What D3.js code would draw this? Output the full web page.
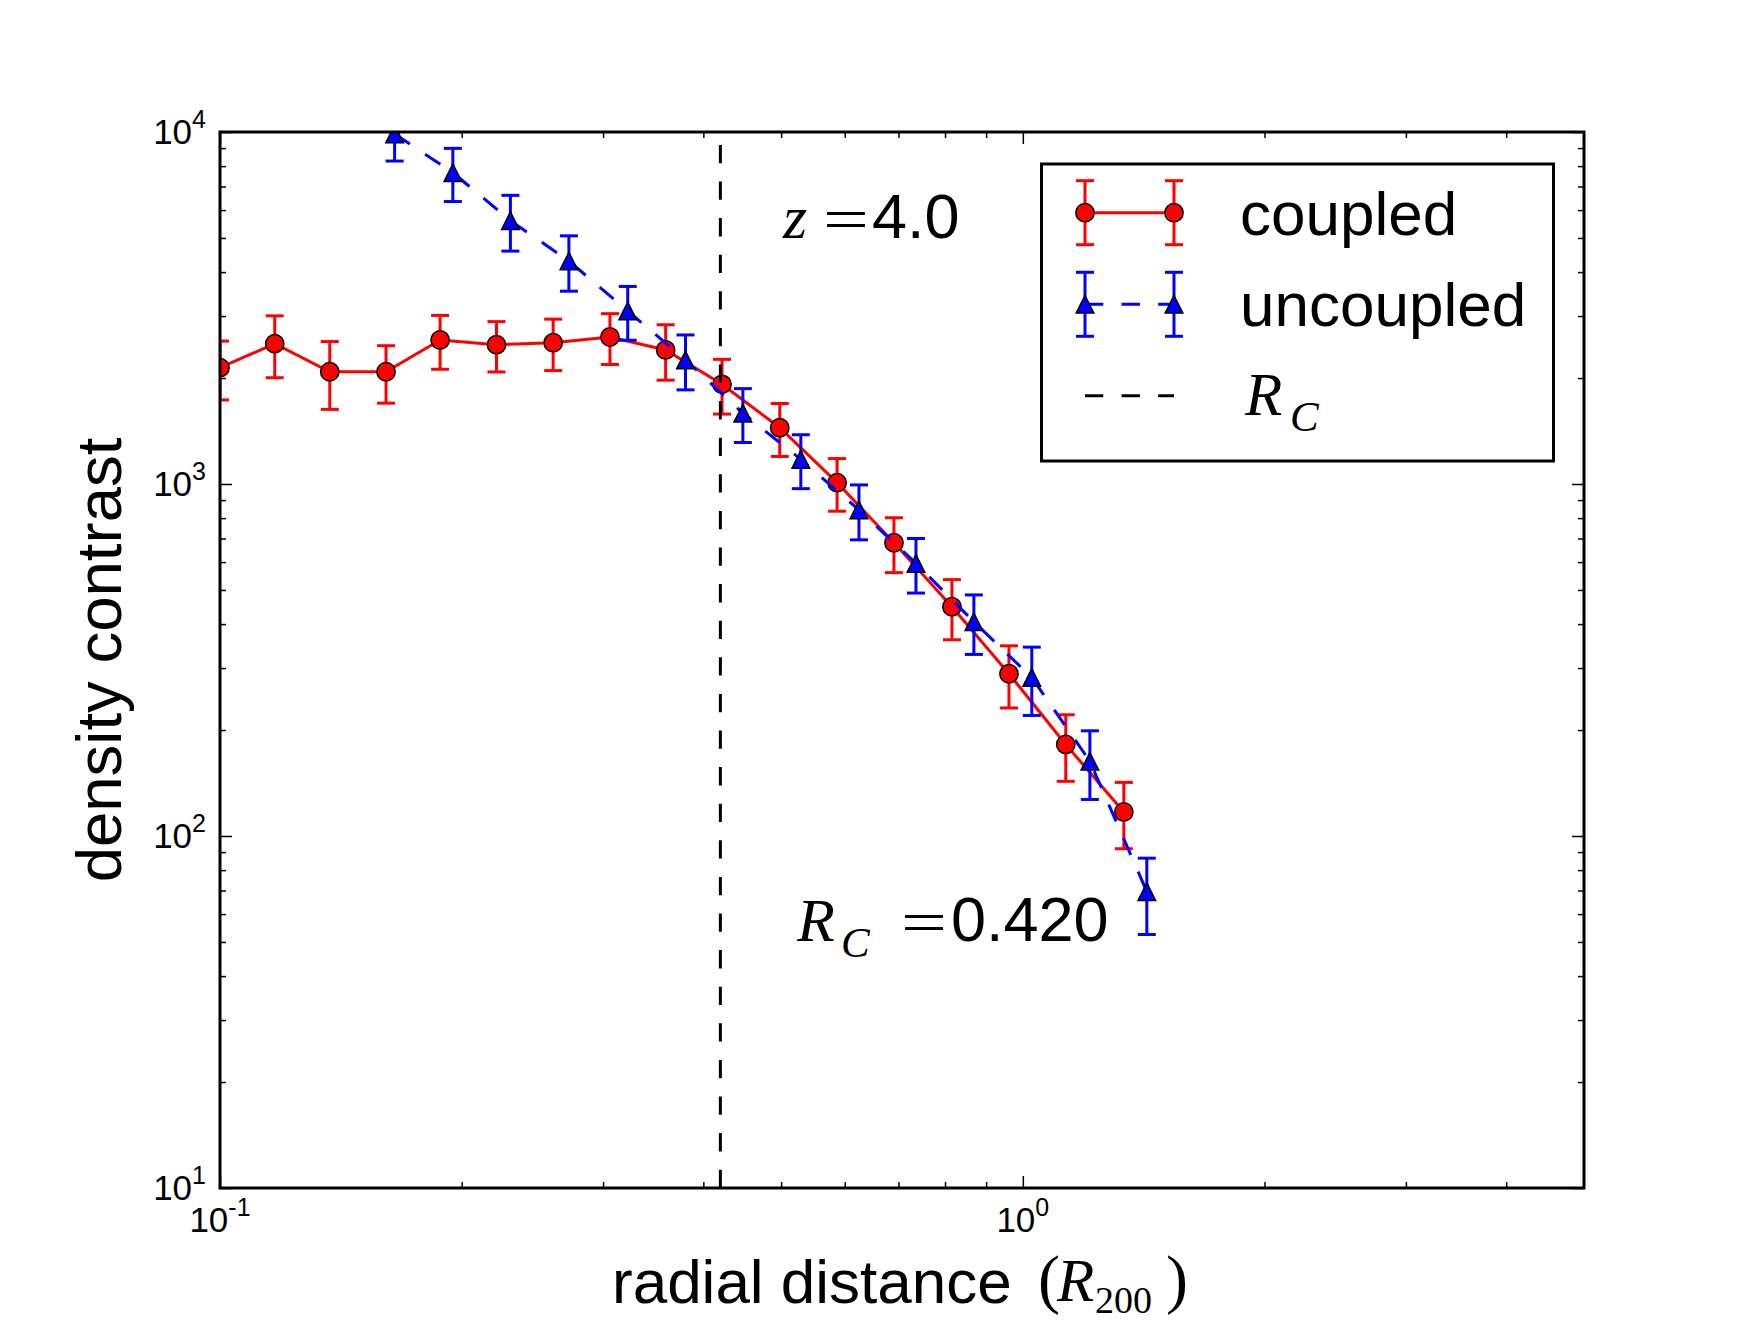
<!DOCTYPE html>
<html>
<head>
<meta charset="utf-8">
<script src="https://cdn.jsdelivr.net/npm/d3@7"></script>
<style>
  html, body { margin: 0; padding: 0; background: #fff; }
  svg { display: block; }
  text { font-family: "Liberation Sans", Arial, Helvetica, sans-serif; fill: #000; }
  .math { font-family: "Liberation Serif", "Times New Roman", serif; }
</style>
</head>
<body>
<svg id="chart" width="1760" height="1320"></svg>
<script>
// radial bins (R200) and density contrast
const coupledR = [0.100, 0.117, 0.137, 0.161, 0.188, 0.221, 0.260, 0.306, 0.359, 0.422,
                  0.498, 0.587, 0.691, 0.816, 0.961, 1.131, 1.336];
const coupledRho = [2140, 2504, 2084, 2084, 2565, 2487, 2520, 2616, 2403, 1920,
                    1445, 1009, 681, 448, 289, 182, 117];
const coupledErr = [407, 500, 455, 387, 447, 406, 420, 431, 431, 340,
                    248, 172, 121, 87, 58, 39, 25];

const uncoupledR = [0.165, 0.195, 0.230, 0.272, 0.322, 0.380, 0.448, 0.529, 0.625, 0.736,
                    0.869, 1.026, 1.212, 1.427];
const uncoupledRho = [9870, 7665, 5598, 4300, 3101, 2251, 1589, 1175, 844, 595,
                      406, 282, 163, 69.5];
const uncoupledErr = [1600, 1320, 1010, 770, 540, 400, 277, 205, 150, 105,
                      78, 62, 36, 17];

const rCore = 0.420;
const redshift = '4.0';

const xMajorTicks = [0.1, 1];
const xMajorExp = ['-1', '0'];
const yMajorTicks = [10, 100, 1000, 10000];
const yMajorExp = ['1', '2', '3', '4'];

const legendLabels = ['coupled', 'uncoupled'];

// layout (matplotlib default subplot box at 220 dpi)
const plotL = 220, plotR = 1584, plotT = 132, plotB = 1188;
const MAJOR = 12, MINOR = 6;
const CAP = 9;          // half cap width
const LW = 3;           // 1pt line
const DASH = '18.3,18.3';

const svg = d3.select('#chart');

const x = d3.scaleLog().domain([0.1, 5]).range([plotL, plotR]);
const y = d3.scaleLog().domain([10, 10000]).range([plotB, plotT]);

// minor ticks 2..9 per decade, kept inside the domain
function minorTicks(scale) {
  const [a, b] = scale.domain();
  const out = [];
  for (let d = a; d < b; d *= 10) {
    for (let k = 2; k <= 9; k++) {
      const v = d * k;
      if (v < b) out.push(v);
    }
  }
  return out;
}

svg.append('defs').append('clipPath').attr('id', 'plot-clip')
  .append('rect')
  .attr('x', plotL).attr('y', plotT)
  .attr('width', plotR - plotL).attr('height', plotB - plotT);

const plot = svg.append('g').attr('clip-path', 'url(#plot-clip)');

const triPath = 'M0,-8.8L8.8,8.8L-8.8,8.8Z';

function drawMarker(g, cx, cy, color, marker) {
  if (marker === 'circle') {
    g.append('circle').attr('cx', cx).attr('cy', cy).attr('r', 9.15)
      .attr('fill', color).attr('stroke', '#000').attr('stroke-width', 1.5);
  } else {
    g.append('path').attr('d', triPath)
      .attr('transform', `translate(${cx},${cy})`)
      .attr('fill', color).attr('stroke', '#000').attr('stroke-width', 1.5);
  }
}

function drawSeries(g, xs, ys, errs, color, dashed, marker) {
  const line = d3.line().x((d, i) => x(xs[i])).y(d => y(d));
  g.append('path')
    .attr('d', line(ys))
    .attr('fill', 'none')
    .attr('stroke', color)
    .attr('stroke-width', LW)
    .attr('stroke-dasharray', dashed ? DASH : null);

  const bars = g.append('g').attr('stroke', color).attr('stroke-width', LW);
  ys.forEach((v, i) => {
    const cx = x(xs[i]);
    const y0 = y(v - errs[i]), y1 = y(v + errs[i]);
    bars.append('line').attr('x1', cx).attr('x2', cx).attr('y1', y0).attr('y2', y1);
    bars.append('line').attr('x1', cx - CAP).attr('x2', cx + CAP).attr('y1', y0).attr('y2', y0);
    bars.append('line').attr('x1', cx - CAP).attr('x2', cx + CAP).attr('y1', y1).attr('y2', y1);
  });

  const pts = g.append('g');
  ys.forEach((v, i) => drawMarker(pts, x(xs[i]), y(v), color, marker));
}

drawSeries(plot.append('g'), coupledR, coupledRho, coupledErr, '#ff0000', false, 'circle');
drawSeries(plot.append('g'), uncoupledR, uncoupledRho, uncoupledErr, '#0000ff', true, 'triangle');

// R_C marker line, dashes start from the bottom like axvline
plot.append('line')
  .attr('x1', x(rCore)).attr('x2', x(rCore))
  .attr('y1', plotB).attr('y2', plotT)
  .attr('stroke', '#000').attr('stroke-width', LW)
  .attr('stroke-dasharray', DASH);

// ticks on all four sides, pointing inward
function tickGroup(axis, tx, ty) {
  const g = svg.append('g').attr('transform', `translate(${tx},${ty})`).call(axis);
  g.select('.domain').remove();
  g.selectAll('text').remove();
  g.selectAll('line').attr('stroke', '#000').attr('stroke-width', 1.5);
  return g;
}
const xMinor = minorTicks(x), yMinor = minorTicks(y);
tickGroup(d3.axisBottom(x).tickValues(xMajorTicks).tickSize(-MAJOR), 0, plotB);
tickGroup(d3.axisBottom(x).tickValues(xMinor).tickSize(-MINOR), 0, plotB);
tickGroup(d3.axisTop(x).tickValues(xMajorTicks).tickSize(-MAJOR), 0, plotT);
tickGroup(d3.axisTop(x).tickValues(xMinor).tickSize(-MINOR), 0, plotT);
tickGroup(d3.axisLeft(y).tickValues(yMajorTicks).tickSize(-MAJOR), plotL, 0);
tickGroup(d3.axisLeft(y).tickValues(yMinor).tickSize(-MINOR), plotL, 0);
tickGroup(d3.axisRight(y).tickValues(yMajorTicks).tickSize(-MAJOR), plotR, 0);
tickGroup(d3.axisRight(y).tickValues(yMinor).tickSize(-MINOR), plotR, 0);

// frame
svg.append('rect')
  .attr('x', plotL).attr('y', plotT)
  .attr('width', plotR - plotL).attr('height', plotB - plotT)
  .attr('fill', 'none').attr('stroke', '#000').attr('stroke-width', LW);

// tick labels 10^n
function powerLabel(px, py, exp, anchor) {
  const t = svg.append('text')
    .attr('x', px).attr('y', py)
    .attr('text-anchor', anchor)
    .style('font-size', '35px');
  t.append('tspan').text('10');
  t.append('tspan').attr('dy', -16).style('font-size', '25px').text(exp);
}
xMajorTicks.forEach((v, i) => powerLabel(x(v), plotB + 44, xMajorExp[i], 'middle'));
yMajorTicks.forEach((v, i) => powerLabel(plotL - 14, y(v) + 12, yMajorExp[i], 'end'));

function mathText(txt, px, py, size, italic, opts) {
  const t = svg.append('text')
    .attr('class', 'math')
    .attr('x', px).attr('y', py)
    .style('font-size', size + 'px')
    .style('font-style', italic ? 'italic' : 'normal')
    .text(txt);
  if (opts && opts.width) t.attr('textLength', opts.width).attr('lengthAdjust', 'spacingAndGlyphs');
  return t;
}

// axis labels
svg.append('text')
  .attr('x', 612).attr('y', 1303)
  .style('font-size', '62px')
  .text('radial distance');
mathText('(', 1038, 1301, 66, false);
mathText('R', 1057, 1301, 61, true);
mathText('200', 1095, 1313, 38, false);
mathText(')', 1166, 1301, 66, false);

svg.append('text')
  .attr('transform', 'translate(121,660) rotate(-90)')
  .attr('text-anchor', 'middle')
  .style('font-size', '63.5px')
  .text('density contrast');

// annotations
mathText('z', 783, 238, 62, true);
mathText('=', 823, 240, 62, false, { width: 46 });
svg.append('text').attr('x', 872).attr('y', 238).style('font-size', '63px').text(redshift);

mathText('R', 797, 941, 62, true);
mathText('C', 841, 957, 43, true);
mathText('=', 901, 943, 62, false, { width: 46 });
svg.append('text').attr('x', 951).attr('y', 941).style('font-size', '63px').text(rCore.toFixed(3));

// legend
const lg = svg.append('g');
lg.append('rect')
  .attr('x', 1041.5).attr('y', 164)
  .attr('width', 512).attr('height', 297)
  .attr('fill', '#fff').attr('stroke', '#000').attr('stroke-width', LW);

const hx0 = 1085, hx1 = 1174;
function legendHandle(cy, color, dashed, marker) {
  lg.append('line')
    .attr('x1', hx0).attr('x2', hx1).attr('y1', cy).attr('y2', cy)
    .attr('stroke', color).attr('stroke-width', LW)
    .attr('stroke-dasharray', dashed ? DASH : null);
  [hx0, hx1].forEach(cx => {
    const b = lg.append('g').attr('stroke', color).attr('stroke-width', LW);
    b.append('line').attr('x1', cx).attr('x2', cx).attr('y1', cy - 32).attr('y2', cy + 32);
    b.append('line').attr('x1', cx - CAP).attr('x2', cx + CAP).attr('y1', cy - 32).attr('y2', cy - 32);
    b.append('line').attr('x1', cx - CAP).attr('x2', cx + CAP).attr('y1', cy + 32).attr('y2', cy + 32);
    drawMarker(lg, cx, cy, color, marker);
  });
}
legendHandle(212.7, '#ff0000', false, 'circle');
legendHandle(304.3, '#0000ff', true, 'triangle');
lg.append('line')
  .attr('x1', hx0).attr('x2', hx1).attr('y1', 395.7).attr('y2', 395.7)
  .attr('stroke', '#000').attr('stroke-width', LW)
  .attr('stroke-dasharray', DASH);

lg.append('text').attr('x', 1240).attr('y', 235).style('font-size', '62px').text(legendLabels[0]);
lg.append('text').attr('x', 1240).attr('y', 326).style('font-size', '62px').text(legendLabels[1]);
mathText('R', 1245, 415, 61, true);
mathText('C', 1290, 431, 43, true);
</script>
</body>
</html>
